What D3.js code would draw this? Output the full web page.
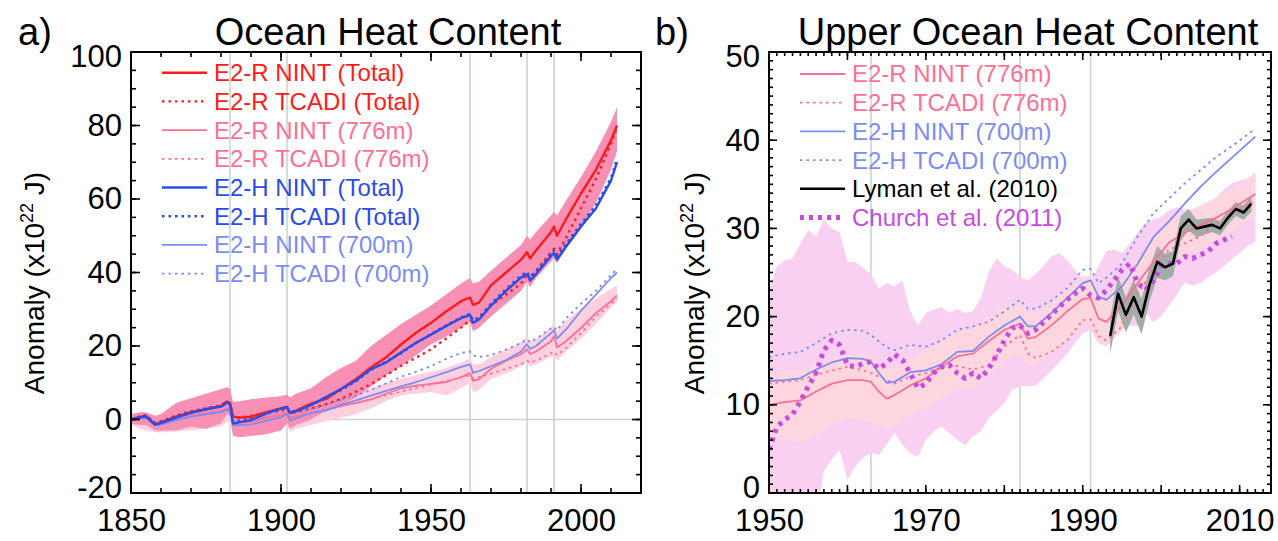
<!DOCTYPE html>
<html>
<head>
<meta charset="utf-8">
<script src="https://cdn.jsdelivr.net/npm/d3@7"></script>
<style>
  body { margin: 0; background: #fff; }
  svg { display: block; }
  text { font-family: "Liberation Sans", Arial, Helvetica, sans-serif; }
</style>
</head>
<body>
<svg id="chart" width="1278" height="541"></svg>
<script>
// ---------------- Panel a: total and upper ocean heat content, 1850-2012 ----------------
const aYears = [1850,1853,1855,1858,1860,1865,1870,1875,1880,1882,1883,1884,1886,1890,1895,1900,1902,1903,1905,1910,1915,1920,1925,1930,1935,1940,1945,1950,1955,1960,1963,1964,1966,1970,1975,1980,1982,1983,1985,1990,1991,1992,1995,2000,2005,2010,2012];

const rNintTotal  = [0,0.7,1.0,-1.3,-0.8,0.8,2.0,2.8,3.7,4.9,4.5,0.8,0.5,0.7,2.0,3.0,3.4,1.8,2.4,4.3,5.6,8.3,11.0,14.2,16.9,20.4,23.6,26.3,29.4,32.2,33.2,31.2,31.8,36.5,40.0,43.5,45.5,43.8,46.0,51.0,52.5,50.0,54.5,61.5,68.0,76.0,80.0];
const rTcadiTotal = [0,0.8,1.0,-1.0,-0.5,1.0,2.2,3.0,3.8,4.8,4.4,1.0,0.5,1.0,1.8,2.5,2.8,1.8,2.0,3.0,4.2,5.6,7.6,9.7,12.0,14.6,16.8,19.1,22.0,25.0,27.0,26.5,27.5,31.0,34.0,37.0,39.5,38.5,40.5,45.5,46.5,45.0,49.5,57.5,65.5,75.0,79.5];
const hNintTotal  = [0,0.6,0.8,-1.4,-1.0,0.5,1.8,2.8,3.5,4.6,4.2,-1.1,-0.8,-0.2,1.6,3.0,3.4,1.8,2.2,3.9,6.1,8.3,10.6,13.7,15.5,18.2,20.9,23.1,25.4,27.6,28.5,26.3,27.2,31.0,35.0,38.6,39.6,37.8,39.5,44.5,45.3,43.5,47.0,52.5,57.5,65.0,70.0];
const hTcadiTotal = [0,0.8,1.2,-1.0,-0.5,1.0,2.2,3.0,3.8,4.8,4.4,-0.6,-0.4,0.2,1.8,3.0,3.3,2.0,2.4,4.0,5.8,8.0,10.4,13.5,15.8,18.0,20.8,23.2,25.6,27.8,28.8,27.0,27.8,31.5,35.5,39.2,40.2,38.8,40.2,45.2,46.0,44.5,47.8,53.3,58.3,65.8,70.8];
const rNint776    = [0,0.5,0.6,-1.5,-1.2,0.0,1.0,1.6,2.2,3.0,2.6,-1.0,-0.8,-0.5,0.4,1.2,1.7,0.5,0.8,1.7,2.5,3.7,4.5,5.5,7.0,8.5,9.2,9.7,10.2,11.5,12.6,10.5,11.0,13.8,16.0,17.8,19.1,17.8,18.5,21.3,22.7,19.6,21.3,24.9,29.0,32.2,33.8];
const rTcadi776   = [0,0.6,0.8,-1.3,-1.0,0.2,1.2,1.8,2.4,3.1,2.8,-0.6,-0.5,-0.2,0.6,1.4,1.8,0.8,1.0,1.8,2.6,3.6,4.5,5.5,6.6,7.6,8.6,9.5,10.5,11.5,12.0,11.2,11.5,12.5,13.8,15.0,16.0,15.5,16.0,18.0,18.5,17.5,19.5,23.5,28.0,31.5,33.0];
const hNint700    = [0,0.4,0.5,-1.6,-1.3,-0.2,0.8,1.4,2.0,2.7,2.3,-1.6,-1.5,-1.3,-0.4,0.6,1.5,-0.3,0.3,1.8,2.5,4.0,5.2,6.5,7.8,9.0,10.2,11.5,12.8,14.3,15.0,12.7,13.2,14.5,16.2,18.5,20.5,19.2,20.0,23.5,24.3,22.0,24.5,29.6,34.0,38.5,40.0];
const hTcadi700   = [0,0.8,1.0,-1.0,-0.6,0.6,1.8,2.6,3.4,4.2,3.9,-0.2,0.0,0.4,1.2,2.0,2.6,1.5,1.8,2.8,4.0,5.4,6.6,8.0,9.8,11.6,13.0,14.5,16.5,18.1,18.5,17.5,17.0,17.5,19.0,20.8,21.8,21.0,22.0,24.8,25.2,24.2,27.5,31.5,35.0,39.3,41.0];

// ensemble spread: total (E2-R) and upper 776 m (E2-R)
const totalBandHi = [1.5,2.0,2.0,1.0,1.5,4.5,5.8,7.0,8.3,8.8,8.5,4.8,5.0,5.5,6.0,6.3,6.8,6.0,7.0,8.5,11.5,14.0,16.0,20.0,23.0,26.0,28.5,31.0,34.0,37.0,38.5,37.0,37.5,40.5,44.0,47.5,50.0,49.0,51.0,55.5,56.5,55.5,59.5,66.0,73.0,81.0,85.0];
const totalBandLo = [-1.0,-1.5,-1.5,-3.0,-3.0,-3.0,-2.0,-2.5,-1.0,1.5,1.0,-4.5,-4.8,-4.5,-4.0,-3.0,-1.0,-2.5,-1.5,0.0,2.5,4.0,6.0,9.0,12.0,14.5,17.5,20.5,22.5,25.0,26.5,24.0,25.0,28.0,31.5,35.0,37.5,36.0,38.5,43.0,44.0,42.5,46.5,52.0,59.0,68.0,73.0];
const upperBandHi = [1.0,1.5,1.5,0.0,0.2,1.2,2.2,2.8,3.5,4.2,3.8,0.5,0.6,1.0,1.8,2.5,3.2,2.2,2.5,3.5,4.5,5.5,7.0,8.5,10.0,11.0,12.0,13.0,14.0,15.5,16.5,15.0,15.0,17.0,19.0,21.0,22.5,21.5,22.0,25.0,26.0,24.0,27.0,30.0,33.0,35.5,36.5];
const upperBandLo = [-1.5,-2.5,-3.0,-3.5,-3.5,-3.2,-3.0,-2.5,-2.0,-0.5,-1.0,-4.0,-4.0,-3.5,-3.0,-2.5,-1.5,-3.5,-2.5,-1.5,-0.5,0.5,1.5,3.0,5.0,6.5,7.0,7.5,6.5,8.5,10.0,7.5,8.0,11.0,12.5,14.5,15.5,14.5,15.0,17.0,17.5,16.0,18.5,22.0,26.0,30.5,32.0];

const aXTicks = [1850, 1900, 1950, 2000];
const aYTicks = [-20, 0, 20, 40, 60, 80, 100];
const aVolcanoes = [1883, 1902, 1963, 1982, 1991];

// ---------------- Panel b: upper ocean heat content, 1950-2012 ----------------
const bYears = [1950,1952,1954,1956,1958,1960,1962,1963,1964,1965,1966,1968,1970,1972,1974,1976,1978,1980,1982,1983,1984,1986,1988,1990,1991,1992,1993,1995,1997,1999,2001,2003,2005,2007,2009,2012];
const bRNint776  = [10.0,10.3,10.5,11.5,12.4,12.8,12.8,12.6,11.5,10.7,11.1,12.2,13.0,14.3,15.5,15.8,17.2,18.5,19.2,17.5,17.7,19.0,20.6,22.0,22.1,19.8,19.4,21.3,23.8,26.2,28.4,29.5,30.4,31.2,32.2,33.9];
const bRTcadi776 = [12.4,12.6,12.8,13.4,13.9,14.3,13.9,13.6,13.2,12.8,12.4,13.2,13.6,14.3,14.4,14.0,14.5,16.6,17.9,15.8,15.3,16.0,17.3,19.6,19.7,17.8,17.3,18.9,22.6,25.3,27.6,28.3,29.1,30.6,31.7,33.2];
const bHNint700  = [12.7,12.8,13.0,14.0,14.8,15.3,15.2,14.9,13.6,12.5,12.6,13.7,13.9,14.6,16.0,16.1,17.7,19.0,20.0,18.9,18.9,20.4,22.1,23.8,24.1,22.3,21.9,23.4,26.0,29.0,30.8,32.8,34.7,36.4,38.0,40.4];
const bHTcadi700 = [15.4,15.8,16.0,17.0,18.1,18.5,18.4,17.9,17.2,16.5,16.2,16.8,16.6,17.3,18.5,18.9,19.4,20.6,21.9,20.9,20.9,21.8,23.2,25.3,25.4,23.8,24.4,26.0,29.1,31.7,33.4,35.1,36.6,38.1,39.3,41.3];
const bRBandHi   = [13.7,13.8,14.0,14.6,15.3,15.6,15.8,15.6,14.6,14.0,14.3,15.3,16.0,17.2,18.3,18.6,20.0,21.2,21.8,20.3,20.5,21.7,23.2,24.6,24.7,22.6,22.3,24.0,26.4,28.7,30.8,31.8,32.6,33.5,34.5,36.2];
const bRBandLo   = [6.3,6.0,5.8,6.5,7.8,8.5,8.2,8.0,7.5,7.2,7.6,8.8,9.6,10.7,11.8,12.0,13.5,15.0,15.8,14.3,14.5,15.8,17.5,19.0,19.2,17.0,16.6,18.4,21.0,23.4,25.6,26.8,27.8,28.6,29.6,31.5];

// full ensemble range, annual 1950-2012
const spreadYears = d3.range(1950, 2013);
const spreadHi = [23.0,25.7,26.4,26.6,28.3,29.8,29.1,31.0,30.0,29.6,26.2,26.2,25.5,24.8,23.2,23.8,23.4,24.1,20.6,19.0,20.4,20.8,21.1,20.4,20.9,20.4,20.6,22.1,25.0,26.6,25.7,25.3,24.5,24.1,24.9,25.7,26.8,27.2,26.4,25.3,24.2,24.0,25.7,27.4,27.6,27.2,28.3,29.5,30.6,31.0,31.3,32.1,32.4,32.2,32.1,32.3,32.4,33.5,34.4,35.1,35.4,35.7,36.3];
const spreadLo = [-3,-3,-3,-3,-3,-3,-3,2.5,3.8,4.9,1.5,3.0,4.0,4.5,4.3,5.5,6.8,5.5,4.5,4.1,6.0,7.0,7.5,6.8,6.0,5.4,6.4,7.0,8.5,9.3,10.2,11.7,12.1,12.1,12.2,13.0,13.9,14.8,15.8,17.0,18.1,18.5,17.0,17.5,18.9,19.2,19.0,18.9,20.4,19.4,20.0,21.3,22.5,23.9,23.5,23.8,24.5,25.0,25.7,26.5,27.2,28.0,28.5];

// observations
const lymanYears = [1993.5,1994.5,1995.5,1996.5,1997.5,1998.5,1999.5,2000.5,2001.5,2002.5,2003.5,2004.5,2005.5,2006.5,2007.5,2008.5,2009.5,2010.5,2011.5];
const lymanOHC   = [17.8,22.6,20.2,22.2,20.0,23.6,26.2,25.6,26.0,30.0,31.0,30.0,30.2,30.4,30.0,31.2,32.2,31.8,32.8];
const lymanErr   = [2.0,2.0,2.0,2.0,2.0,1.9,1.8,1.5,1.4,1.4,1.2,1.0,0.9,0.8,0.8,0.8,0.8,0.8,0.9];
const churchYears = d3.range(1950, 2010);
const churchOHC  = [4.9,7.5,8.3,8.9,10.4,12.1,13.6,16.2,17.3,16.8,14.5,14.3,14.7,14.9,14.1,14.7,15.7,15.1,13.6,11.9,12.4,13.6,14.3,14.5,13.6,13.0,13.6,13.0,14.1,15.6,17.3,18.7,19.0,18.1,18.5,19.4,20.2,21.1,21.9,22.6,23.2,22.4,22.1,23.0,24.1,25.3,26.0,23.8,23.0,24.1,25.7,26.0,26.0,26.8,26.6,27.0,27.4,28.3,28.7,29.1];

const bXTicks = [1950, 1970, 1990, 2010];
const bYTicks = [0, 10, 20, 30, 40, 50];
const bVolcanoes = [1963, 1982, 1991];

// ---------------- styles ----------------
const C = {
  red: "#ff1a1a", pink: "#ff6f92", blue: "#2a4ce8", lblue: "#7b8cf2",
  bandTotal: "#f790b4", bandUpper: "#fdd0e1",
  spread: "#f9d0f2", bandB: "#fdd6df",
  church: "#c84ae0", lymanBand: "#a2aca8",
  grid: "#c9d5d1"
};
const FONT = '"Liberation Sans", Arial, Helvetica, sans-serif';

const svg = d3.select("#chart");

function pairs(xs, ys) { return d3.zip(xs, ys); }

function drawPanel(cfg) {
  const { x, y, id } = cfg;
  const [x0, x1] = x.range(), [y0, y1] = y.range(); // y0 bottom, y1 top

  svg.append("clipPath").attr("id", id).append("rect")
    .attr("x", x0).attr("y", y1).attr("width", x1 - x0).attr("height", y0 - y1);
  const g = svg.append("g").attr("clip-path", `url(#${id})`);

  // reference lines
  cfg.volcanoes.forEach(v => g.append("line")
    .attr("x1", x(v)).attr("x2", x(v)).attr("y1", y1).attr("y2", y0)
    .attr("stroke", C.grid).attr("stroke-width", 1.6));
  if (cfg.zeroLine) g.append("line")
    .attr("x1", x0).attr("x2", x1).attr("y1", y(0)).attr("y2", y(0))
    .attr("stroke", C.grid).attr("stroke-width", 1.6);

  // bands
  const area = d3.area().x(d => x(d[0])).y0(d => y(d[1])).y1(d => y(d[2]));
  cfg.bands.forEach(b => g.append("path")
    .datum(d3.zip(b.years, b.lo, b.hi)).attr("d", area).attr("fill", b.color));

  // lines
  const line = d3.line().x(d => x(d[0])).y(d => y(d[1]));
  cfg.lines.forEach(s => g.append("path")
    .datum(pairs(s.years, s.values)).attr("d", line)
    .attr("fill", "none").attr("stroke", s.color).attr("stroke-width", s.width)
    .attr("stroke-dasharray", s.dash || null)
    .attr("stroke-linejoin", "round"));

  // frame
  svg.append("rect").attr("x", x0).attr("y", y1).attr("width", x1 - x0).attr("height", y0 - y1)
    .attr("fill", "none").attr("stroke", "#000").attr("stroke-width", 2);

  // inward ticks on all four sides
  const tk = svg.append("g").attr("stroke", "#000").attr("stroke-width", 1.6);
  const xTick = (v, len) => {
    tk.append("line").attr("x1", x(v)).attr("x2", x(v)).attr("y1", y0).attr("y2", y0 - len);
    tk.append("line").attr("x1", x(v)).attr("x2", x(v)).attr("y1", y1).attr("y2", y1 + len);
  };
  const yTick = (v, len) => {
    tk.append("line").attr("x1", x0).attr("x2", x0 + len).attr("y1", y(v)).attr("y2", y(v));
    tk.append("line").attr("x1", x1).attr("x2", x1 - len).attr("y1", y(v)).attr("y2", y(v));
  };
  cfg.xMinor.forEach(v => xTick(v, cfg.minorLen));
  cfg.xMajor.forEach(v => xTick(v, cfg.majorLen));
  cfg.yMinor.forEach(v => yTick(v, cfg.minorLen));
  cfg.yMajor.forEach(v => yTick(v, cfg.majorLen));

  // tick labels through d3 axes (tick lines hidden; drawn above)
  const fmt = d => String(d);
  const ax = svg.append("g").attr("transform", `translate(0,${y0})`)
    .call(d3.axisBottom(x).tickValues(cfg.xLabels).tickFormat(fmt).tickSize(0).tickPadding(16));
  const ay = svg.append("g").attr("transform", `translate(${x0},0)`)
    .call(d3.axisLeft(y).tickValues(cfg.yLabels).tickFormat(fmt).tickSize(0).tickPadding(9));
  [ax, ay].forEach(a => {
    a.select(".domain").remove();
    a.selectAll("text").attr("font-size", 31).attr("font-family", FONT).attr("fill", "#000");
  });
  // end labels sit slightly inside the frame
  const [yMin, yMax] = y.domain();
  ay.selectAll("text")
    .attr("y", d => d === yMin ? -5 : d === yMax ? 5 : 0);

  // titles
  svg.append("text").attr("x", cfg.tagX).attr("y", 45).attr("font-size", 38).text(cfg.tag);
  svg.append("text").attr("x", cfg.titleX).attr("y", 45).attr("font-size", 38)
    .attr("text-anchor", "middle").text(cfg.title);

  // y-axis label
  const yl = svg.append("text")
    .attr("transform", `translate(${cfg.yLabelX},283) rotate(-90)`)
    .attr("text-anchor", "middle").attr("font-size", 28);
  yl.append("tspan").text("Anomaly (x10");
  yl.append("tspan").attr("font-size", 18).attr("dy", -11).text("22");
  yl.append("tspan").attr("dy", 11).text(" J)");

  // legend
  const lg = svg.append("g");
  cfg.legend.forEach((s, i) => {
    const ly = cfg.legendY + i * 28.7;
    lg.append("line").attr("x1", cfg.legendX).attr("x2", cfg.legendX + 45)
      .attr("y1", ly).attr("y2", ly)
      .attr("stroke", s.color).attr("stroke-width", s.legendWidth || s.width)
      .attr("stroke-dasharray", s.dash || null);
    lg.append("text").attr("x", cfg.legendX + 52).attr("y", ly).attr("dy", "0.35em")
      .attr("font-size", 24).attr("fill", s.textColor || s.color).text(s.label);
  });
}

const DOT = "2.5,4";

// panel a
const xA = d3.scaleLinear().domain([1850, 2020]).range([131, 641]);
const yA = d3.scaleLinear().domain([-20, 100]).range([493, 52]);
const linesA = [
  { label: "E2-R NINT (Total)",  values: rNintTotal,  color: C.red,   width: 2.4 },
  { label: "E2-R TCADI (Total)", values: rTcadiTotal, color: C.red,   width: 2.4, dash: DOT },
  { label: "E2-R NINT (776m)",   values: rNint776,    color: C.pink,  width: 1.8 },
  { label: "E2-R TCADI (776m)",  values: rTcadi776,   color: C.pink,  width: 1.8, dash: DOT },
  { label: "E2-H NINT (Total)",  values: hNintTotal,  color: C.blue,  width: 2.4 },
  { label: "E2-H TCADI (Total)", values: hTcadiTotal, color: C.blue,  width: 2.4, dash: DOT },
  { label: "E2-H NINT (700m)",   values: hNint700,    color: C.lblue, width: 1.8 },
  { label: "E2-H TCADI (700m)",  values: hTcadi700,   color: C.lblue, width: 1.8, dash: DOT }
].map(s => Object.assign(s, { years: aYears }));
// draw order: upper-ocean curves beneath the total curves
const orderA = [2, 3, 6, 7, 1, 5, 0, 4].map(i => linesA[i]);

drawPanel({
  id: "clipA", x: xA, y: yA, volcanoes: aVolcanoes, zeroLine: true,
  bands: [
    { years: aYears, lo: upperBandLo, hi: upperBandHi, color: C.bandUpper },
    { years: aYears, lo: totalBandLo, hi: totalBandHi, color: C.bandTotal }
  ],
  lines: orderA, legend: linesA,
  xMinor: d3.range(1850, 2021, 10), xMajor: aXTicks, xLabels: aXTicks,
  yMinor: d3.range(-20, 101, 5), yMajor: aYTicks, yLabels: aYTicks,
  minorLen: 5, majorLen: 9,
  tag: "a)", tagX: 18, title: "Ocean Heat Content", titleX: 388, yLabelX: 44,
  legendX: 162, legendY: 72.7
});

// panel b
const xB = d3.scaleLinear().domain([1950, 2014]).range([769, 1271]);
const yB = d3.scaleLinear().domain([0, 50]).range([493, 52]);
const lymanSeries = { label: "Lyman et al. (2010)", years: lymanYears, values: lymanOHC, color: "#000", width: 2.6 };
const churchSeries = { label: "Church et al. (2011)", years: churchYears, values: churchOHC, color: C.church, width: 5, dash: "4,5" };
const linesB = [
  { label: "E2-R NINT (776m)",  years: bYears, values: bRNint776,  color: C.pink,  width: 1.8 },
  { label: "E2-R TCADI (776m)", years: bYears, values: bRTcadi776, color: C.pink,  width: 1.8, dash: DOT },
  { label: "E2-H NINT (700m)",  years: bYears, values: bHNint700,  color: C.lblue, width: 1.8 },
  { label: "E2-H TCADI (700m)", years: bYears, values: bHTcadi700, color: C.lblue, width: 1.8, dash: DOT },
  lymanSeries, churchSeries
];

drawPanel({
  id: "clipB", x: xB, y: yB, volcanoes: bVolcanoes, zeroLine: false,
  bands: [
    { years: spreadYears, lo: spreadLo, hi: spreadHi, color: C.spread },
    { years: bYears, lo: bRBandLo, hi: bRBandHi, color: C.bandB },
    { years: lymanYears, lo: lymanOHC.map((v, i) => v - lymanErr[i]), hi: lymanOHC.map((v, i) => v + lymanErr[i]), color: C.lymanBand }
  ],
  lines: [linesB[1], linesB[3], linesB[0], linesB[2], churchSeries, lymanSeries],
  legend: linesB,
  xMinor: d3.range(1950, 2015, 1), xMajor: d3.range(1950, 2015, 10), xLabels: bXTicks,
  yMinor: d3.range(0, 51, 1), yMajor: bYTicks, yLabels: bYTicks,
  minorLen: 4, majorLen: 8,
  tag: "b)", tagX: 655, title: "Upper Ocean Heat Content", titleX: 1028, yLabelX: 704,
  legendX: 800, legendY: 74
});
</script>
</body>
</html>
